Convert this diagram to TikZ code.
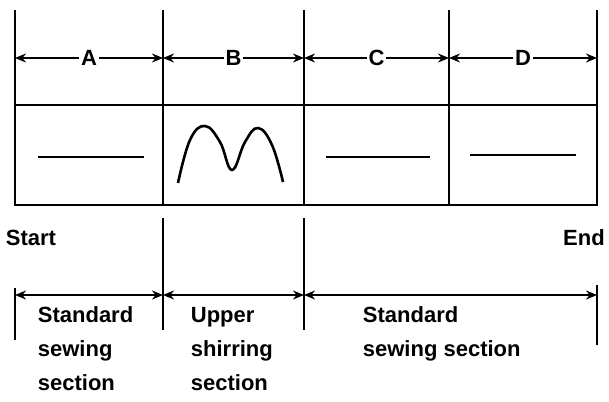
\documentclass[tikz,border=0pt]{standalone}
\usepackage{fontspec}
\setmainfont{Liberation Sans}
\usetikzlibrary{arrows,arrows.meta,positioning}
\begin{document}
\begin{tikzpicture}[x=1pt,y=-1pt,>={Stealth[length=11pt,width=9pt]},line width=1.8pt,
  lbl/.style={font=\bfseries\fontsize{22}{26}\selectfont,fill=white,inner sep=2pt},
  txt/.style={font=\bfseries\fontsize{22}{34}\selectfont,align=left,anchor=north west,inner sep=0pt}]
\useasboundingbox (0,0) rectangle (609,401);
% top ticks
\foreach \x/\n in {15/a,163/b,304/c,449/d,597/e} {
  \coordinate (t\n) at (\x,10);
  \coordinate (m\n) at (\x,58);
  \draw (t\n) -- (\x,105);
}
\draw (15,105) rectangle (597,205);
\draw (163,105) -- (163,205);
\draw (304,105) -- (304,205);
\draw (449,105) -- (449,205);
% dimensions
\draw[<->] (ma) -- node[lbl]{A} (mb);
\draw[<->] (mb) -- node[lbl]{B} (mc);
\draw[<->] (mc) -- node[lbl]{C} (md);
\draw[<->] (md) -- node[lbl]{D} (me);
% stitches
\draw[line width=2.6pt] (38,157) -- (144,157);
\draw[line width=2.6pt] plot[smooth,tension=0.7] coordinates {(178,183) (190,140) (205,126) (220,142) (232,170) (245,142) (258,128) (272,145) (283,182)};
\draw[line width=2.6pt] (326,157) -- (430,157);
\draw[line width=2.6pt] (470,155) -- (576,155);
\node[font=\bfseries\fontsize{22}{26}\selectfont] (start) at (31,238) {Start};
\node[font=\bfseries\fontsize{22}{26}\selectfont] (end) at (584,238) {End};
% lower sections
\coordinate (la) at (15,295); \coordinate (lb) at (163,295);
\coordinate (lc) at (304,295); \coordinate (ld) at (597,295);
\draw (15,288) -- (15,340);
\draw (163,218) -- (163,330);
\draw (304,218) -- (304,330);
\draw (597,285) -- (597,345);
\draw[<->] (la) -- (lb);
\draw[<->] (lb) -- (lc);
\draw[<->] (lc) -- (ld);
\node[txt] (s1) at (37,306) {Standard\\sewing\\section};
\node[txt] (s2) at (190,306) {Upper\\shirring\\section};
\node[txt] (s3) at (362,306) {Standard\\sewing section};
\end{tikzpicture}
\end{document}
